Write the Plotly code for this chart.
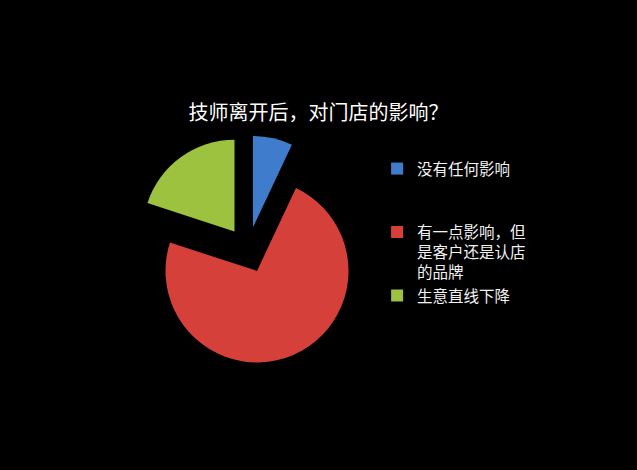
import plotly.graph_objects as go

title = "技师离开后，对门店的影响？"
labels = ["没有任何影响", "有一点影响，但是客户还是认店的品牌", "生意直线下降"]
legend_text = ["没有任何影响<br> <br> ", "有一点影响，但<br>是客户还是认店<br>的品牌", "生意直线下降"]
values = [7, 73, 20]
colors = ["#3f7dcc", "#d5403b", "#9cc23f"]

fig = go.Figure()
fig.add_trace(go.Pie(
    labels=legend_text,
    values=values,
    sort=False,
    direction="clockwise",
    rotation=0,
    pull=[0.25, 0.25, 0.25],
    marker=dict(colors=colors, line=dict(width=0)),
    textinfo="none",
    hoverinfo="skip",
    domain=dict(x=[0.2096, 0.5688], y=[0.2249, 0.7117]),
))

fig.update_layout(
    width=637, height=470,
    margin=dict(l=0, r=0, t=0, b=0),
    paper_bgcolor="#000000",
    plot_bgcolor="#000000",
    font=dict(family="Noto Sans CJK SC", color="#f2f2f2"),
    title=dict(text=title, x=0.5, xanchor="center", xref="paper",
               y=1 - 113 / 470, yanchor="middle", yref="paper",
               font=dict(size=20, color="#ffffff")),
    legend=dict(x=0.592, xanchor="left", y=1 - 152 / 470, yanchor="top",
                valign="top", font=dict(size=15.5, color="#f2f2f2"),
                bgcolor="rgba(0,0,0,0)", tracegroupgap=0),
    showlegend=True,
)

# page margin off so the 637x470 figure fills the window
fig.write_html("out.html",
               config={"displayModeBar": False},
               post_script="document.body.style.margin='0';"
                           "document.body.style.background='#000';")
